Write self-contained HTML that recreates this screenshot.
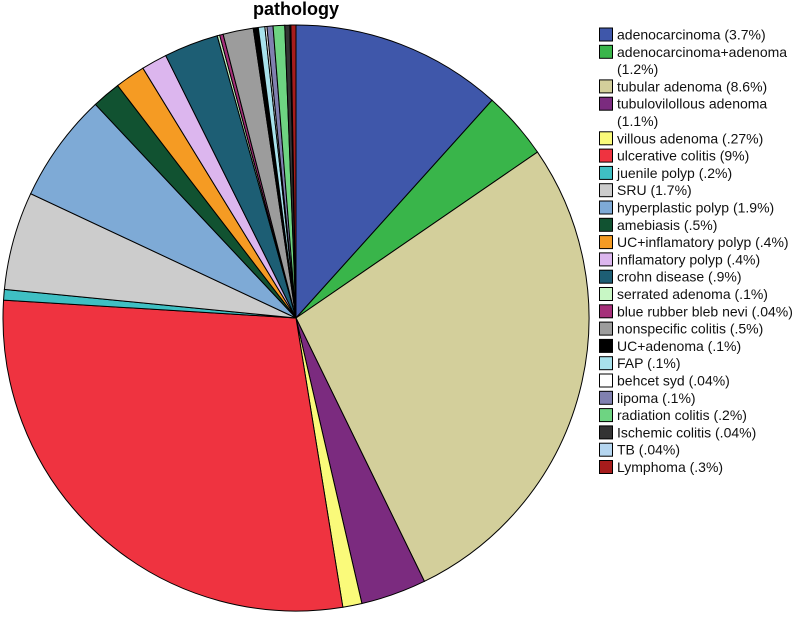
<!DOCTYPE html>
<html><head><meta charset="utf-8"><style>
body{margin:0;background:#fff;width:796px;height:614px;overflow:hidden;font-family:"Liberation Sans",sans-serif}
</style></head><body>
<svg id="chart" width="796" height="614" xmlns="http://www.w3.org/2000/svg">
<text x="296" y="15" text-anchor="middle" font-size="18" font-weight="bold" font-family="Liberation Sans, sans-serif">pathology</text>
<g id="slices"></g>
<g id="legend"></g>
</svg>
<script>
const categories = ["adenocarcinoma (3.7%)","adenocarcinoma+adenoma|(1.2%)","tubular adenoma (8.6%)","tubulovilollous adenoma|(1.1%)","villous adenoma (.27%)","ulcerative colitis (9%)","juenile polyp (.2%)","SRU (1.7%)","hyperplastic polyp (1.9%)","amebiasis (.5%)","UC+inflamatory polyp (.4%)","inflamatory polyp (.4%)","crohn disease (.9%)","serrated adenoma (.1%)","blue rubber bleb nevi (.04%)","nonspecific colitis (.5%)","UC+adenoma (.1%)","FAP (.1%)","behcet syd (.04%)","lipoma (.1%)","radiation colitis (.2%)","Ischemic colitis (.04%)","TB (.04%)","Lymphoma (.3%)"];
const sliceValues = [42,13.5,98.5,13,3.8,102.7,2.1,19.5,21.7,5.7,6,5.1,10.8,0.5,0.7,6,1,1.3,0.4,1.2,2.3,1.0,0.2,1.0];
const colors = ["#3f57aa","#39b54a","#d3cf9b","#7b2b7f","#fafa7a","#ef3340","#3fbfc3","#cccccc","#7eaad6","#115231","#f59b23","#dcb6ee","#1d5e74","#c8f7c5","#a6307a","#9c9c9c","#000000","#a8e2ec","#ffffff","#8080b0","#6ed482","#333333","#b5d6f0","#a61c1c"];
const NS="http://www.w3.org/2000/svg";
const cx=296, cy=318, R=293;
const total=sliceValues.reduce((a,b)=>a+b,0);
function pt(a){const r=a*Math.PI/180;return [cx+R*Math.sin(r), cy-R*Math.cos(r)];}
const sg=document.getElementById('slices');
let acc=0;
sliceValues.forEach((v,i)=>{
  const a0=acc/total*360, a1=(acc+v)/total*360; acc+=v;
  const p0=pt(a0), p1=pt(a1);
  const large=(a1-a0)>180?1:0;
  const p=document.createElementNS(NS,'path');
  p.setAttribute('d',`M${cx},${cy} L${p0[0]},${p0[1]} A${R},${R} 0 ${large} 1 ${p1[0]},${p1[1]} Z`);
  p.setAttribute('fill',colors[i]);p.setAttribute('stroke','#000');p.setAttribute('stroke-width','1');
  
  
  sg.appendChild(p);
});
const lg=document.getElementById('legend');
let line=0;const y0=34.5, step=17.3;
categories.forEach((c,i)=>{
  const parts=c.split('|');
  const y=y0+line*step;
  const g=document.createElementNS(NS,'g');
  
  
  const r=document.createElementNS(NS,'rect');
  r.setAttribute('x',599.5);r.setAttribute('y',y-6.5);r.setAttribute('width',13);r.setAttribute('height',13);
  r.setAttribute('fill',colors[i]);r.setAttribute('stroke','#000');r.setAttribute('stroke-width','1');
  g.appendChild(r);
  parts.forEach((t,k)=>{
    const tx=document.createElementNS(NS,'text');
    tx.setAttribute('x',617);tx.setAttribute('y',y+5+k*step);
    tx.setAttribute('font-size','14');tx.setAttribute('fill','#111');
    tx.textContent=t;g.appendChild(tx);
  });
  line+=parts.length;
  lg.appendChild(g);
});
</script>
</body></html>
